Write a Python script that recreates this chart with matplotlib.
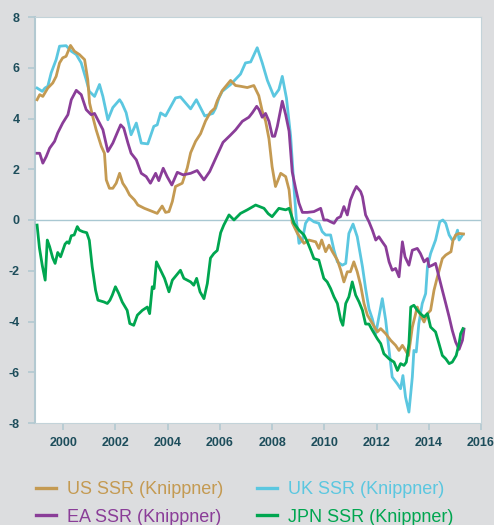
import matplotlib
matplotlib.use("Agg")
import matplotlib.pyplot as plt
from matplotlib.lines import Line2D

plt.rcParams['font.family'] = ['Liberation Sans', 'DejaVu Sans']
plt.rcParams['axes.unicode_minus'] = False

# ---------------- data (decimal years, shadow short rate %) ----------------
us_t = [1999.0, 1999.1, 1999.22, 1999.41, 1999.6, 1999.73, 1999.86, 1999.98, 2000.11, 2000.28,
        2000.43, 2000.62, 2000.82, 2000.94, 2001.01, 2001.13, 2001.26, 2001.46, 2001.58, 2001.65,
        2001.77, 2001.9, 2002.03, 2002.16, 2002.28, 2002.41, 2002.54, 2002.73, 2002.86, 2003.11,
        2003.43, 2003.6, 2003.79, 2003.92, 2004.05, 2004.18, 2004.3, 2004.56, 2004.75, 2004.88,
        2005.07, 2005.26, 2005.45, 2005.64, 2005.8, 2005.9, 2006.09, 2006.41, 2006.6, 2006.79,
        2007.05, 2007.3, 2007.49, 2007.62, 2007.75, 2007.88, 2008.0, 2008.13, 2008.33, 2008.52,
        2008.65, 2008.77, 2008.97, 2009.22, 2009.41, 2009.67, 2009.79, 2009.9, 2010.05, 2010.18,
        2010.31, 2010.5, 2010.63, 2010.75, 2010.88, 2011.0, 2011.13, 2011.26, 2011.39, 2011.52,
        2011.65, 2011.84, 2012.03, 2012.16, 2012.35, 2012.54, 2012.73, 2012.86, 2012.99, 2013.11,
        2013.22, 2013.37, 2013.56, 2013.68, 2013.82, 2013.95, 2014.07, 2014.2, 2014.33, 2014.52,
        2014.65, 2014.85, 2014.93, 2015.03, 2015.16, 2015.33]
us_v = [4.74, 4.94, 4.87, 5.2, 5.4, 5.66, 6.19, 6.39, 6.45, 6.88,
        6.65, 6.52, 6.32, 5.53, 4.61, 4.08, 3.56, 2.9, 2.63, 1.58,
        1.25, 1.25, 1.45, 1.84, 1.45, 1.25, 0.99, 0.79, 0.59, 0.46,
        0.33, 0.26, 0.55, 0.3, 0.33, 0.73, 1.32, 1.45, 2.05, 2.65,
        3.1, 3.4, 3.9, 4.25, 4.4, 4.7, 5.1, 5.5, 5.3, 5.27,
        5.22, 5.3, 4.9, 4.3, 3.9, 3.2, 2.1, 1.32, 1.84, 1.71,
        1.19, -0.1, -0.53, -0.92, -0.79, -0.86, -1.12, -0.79, -1.25, -0.99,
        -1.25, -1.58, -1.98, -2.44, -2.04, -2.04, -1.65, -2.04, -2.57, -3.29,
        -3.75, -4.08, -4.41, -4.28, -4.48, -4.74, -4.94, -5.14, -4.94, -5.14,
        -5.34, -4.22, -3.43, -3.75, -4.02, -3.69, -3.56, -2.77, -2.24, -1.52,
        -1.38, -1.25, -0.79, -0.59, -0.53, -0.55]

uk_t = [1999.0, 1999.2, 1999.3, 1999.41, 1999.54, 1999.73, 1999.86, 2000.11, 2000.31, 2000.5,
        2000.69, 2000.88, 2001.0, 2001.2, 2001.39, 2001.52, 2001.71, 2001.9, 2002.16, 2002.25,
        2002.41, 2002.6, 2002.8, 2002.99, 2003.24, 2003.47, 2003.6, 2003.73, 2003.92, 2004.3,
        2004.49, 2004.88, 2005.1, 2005.42, 2005.73, 2005.84, 2005.96, 2006.09, 2006.41, 2006.79,
        2006.98, 2007.18, 2007.43, 2007.62, 2007.82, 2008.07, 2008.26, 2008.39, 2008.55, 2008.71,
        2008.84, 2008.93, 2009.03, 2009.16, 2009.28, 2009.41, 2009.6, 2009.79, 2009.92, 2010.05,
        2010.24, 2010.37, 2010.5, 2010.69, 2010.82, 2010.94, 2011.1, 2011.26, 2011.46, 2011.58,
        2011.71, 2011.84, 2011.97, 2012.09, 2012.22, 2012.35, 2012.48, 2012.6, 2012.8, 2012.92,
        2013.01, 2013.11, 2013.24, 2013.37, 2013.43, 2013.52, 2013.62, 2013.75, 2013.88, 2013.95,
        2014.07, 2014.26, 2014.42, 2014.54, 2014.65, 2014.78, 2014.9, 2015.0, 2015.1, 2015.16,
        2015.29]
uk_v = [5.2, 5.07, 5.2, 5.27, 5.8, 6.32, 6.85, 6.87, 6.65, 6.52,
        6.19, 5.53, 5.07, 4.87, 5.34, 4.87, 3.95, 4.43, 4.74, 4.6,
        4.23, 3.36, 3.82, 3.03, 3.0, 3.69, 3.75, 4.22, 4.1, 4.81,
        4.85, 4.38, 4.74, 4.1, 4.2, 4.41, 4.8, 5.07, 5.34, 5.75,
        6.19, 6.23, 6.79, 6.2, 5.5, 4.87, 5.14, 5.66, 4.8, 3.3,
        1.25, 0.0, -0.92, -0.79, -0.13, 0.07, -0.07, -0.13, -0.46, -0.59,
        -0.59, -1.19, -1.65, -1.78, -1.71, -0.53, -0.16, -0.66, -1.84, -2.7,
        -3.5, -3.9, -4.48, -3.82, -3.1, -3.95, -5.14, -6.19, -6.46, -6.65,
        -6.13, -6.98, -7.57, -6.19, -5.14, -5.2, -4.08, -3.29, -2.9, -1.84,
        -1.32, -0.79, -0.07, 0.0, -0.13, -0.59, -0.79, -0.73, -0.4, -0.79,
        -0.59]

ea_t = [1999.0, 1999.1, 1999.22, 1999.35, 1999.48, 1999.67, 1999.79, 1999.98, 2000.18, 2000.31,
        2000.5, 2000.69, 2000.88, 2001.07, 2001.2, 2001.39, 2001.52, 2001.71, 2001.9, 2002.09,
        2002.2, 2002.32, 2002.48, 2002.6, 2002.8, 2002.99, 2003.18, 2003.34, 2003.54, 2003.66,
        2003.83, 2003.98, 2004.16, 2004.37, 2004.59, 2004.88, 2005.13, 2005.39, 2005.61, 2005.87,
        2006.12, 2006.38, 2006.6, 2006.86, 2007.11, 2007.24, 2007.41, 2007.5, 2007.62, 2007.75,
        2007.88, 2008.01, 2008.1, 2008.2, 2008.39, 2008.52, 2008.65, 2008.77, 2008.9, 2009.03,
        2009.16, 2009.35, 2009.6, 2009.86, 2009.98, 2010.11, 2010.24, 2010.37, 2010.5, 2010.62,
        2010.75, 2010.88, 2011.0, 2011.13, 2011.23, 2011.39, 2011.46, 2011.58, 2011.71, 2011.84,
        2011.97, 2012.09, 2012.22, 2012.35, 2012.48, 2012.6, 2012.73, 2012.86, 2012.99, 2013.09,
        2013.24, 2013.37, 2013.56, 2013.68, 2013.82, 2013.95, 2014.01, 2014.14, 2014.26, 2014.39,
        2014.52, 2014.65, 2014.78, 2014.9, 2015.03, 2015.16, 2015.29, 2015.35]
ea_v = [2.63, 2.63, 2.24, 2.5, 2.83, 3.1, 3.43, 3.82, 4.15, 4.74,
        5.11, 4.94, 4.35, 4.15, 4.2, 3.82, 3.56, 2.7, 3.03, 3.49,
        3.75, 3.62, 3.03, 2.63, 2.37, 1.84, 1.71, 1.45, 1.84, 1.55,
        2.04, 1.71, 1.38, 1.88, 1.78, 1.84, 1.95, 1.58, 1.91, 2.5,
        3.06, 3.32, 3.55, 3.89, 4.05, 4.22, 4.48, 4.35, 4.05, 4.2,
        3.89, 3.3, 3.3, 3.69, 4.68, 4.15, 3.5, 1.9, 1.25, 0.66,
        0.3, 0.3, 0.33, 0.46, 0.0, 0.0, -0.07, -0.13, 0.07, 0.13,
        0.53, 0.2, 0.79, 1.12, 1.32, 1.12, 0.92, 0.2, -0.07, -0.4,
        -0.79, -0.66, -0.86, -1.05, -1.65, -1.98, -1.91, -2.24, -0.86, -1.45,
        -1.78, -1.19, -1.12, -1.32, -1.65, -1.52, -1.84, -1.78, -1.71, -2.24,
        -2.77, -3.29, -3.82, -4.35, -4.81, -5.1, -4.74, -4.3]

jp_t = [1999.0, 1999.09, 1999.2, 1999.31, 1999.39, 1999.48, 1999.6, 1999.69, 1999.79, 1999.9,
        2000.07, 2000.15, 2000.22, 2000.31, 2000.42, 2000.54, 2000.62, 2000.75, 2000.9, 2001.0,
        2001.11, 2001.24, 2001.33, 2001.56, 2001.69, 2001.79, 2001.88, 2002.0, 2002.13, 2002.26,
        2002.45, 2002.55, 2002.7, 2002.84, 2003.03, 2003.22, 2003.31, 2003.41, 2003.48, 2003.57,
        2003.73, 2003.88, 2004.05, 2004.18, 2004.34, 2004.49, 2004.62, 2004.88, 2005.0, 2005.11,
        2005.24, 2005.39, 2005.52, 2005.64, 2005.77, 2005.9, 2006.03, 2006.15, 2006.35, 2006.54,
        2006.79, 2007.05, 2007.37, 2007.69, 2007.85, 2008.0, 2008.26, 2008.52, 2008.65, 2008.84,
        2009.03, 2009.22, 2009.35, 2009.48, 2009.6, 2009.79, 2009.98, 2010.11, 2010.24, 2010.37,
        2010.5, 2010.63, 2010.71, 2010.82, 2010.94, 2011.07, 2011.2, 2011.33, 2011.46, 2011.58,
        2011.71, 2011.84, 2012.03, 2012.16, 2012.28, 2012.48, 2012.67, 2012.8, 2012.92, 2013.05,
        2013.14, 2013.24, 2013.31, 2013.43, 2013.56, 2013.68, 2013.82, 2013.95, 2014.07, 2014.26,
        2014.39, 2014.52, 2014.65, 2014.78, 2014.9, 2015.05, 2015.16, 2015.22, 2015.31]
jp_v = [-0.2, -1.1, -1.8, -2.37, -0.79, -1.05, -1.5, -1.71, -1.28, -1.45,
        -0.95, -0.86, -0.92, -0.62, -0.59, -0.26, -0.4, -0.46, -0.5, -0.8,
        -1.84, -2.77, -3.16, -3.23, -3.29, -3.16, -2.96, -2.63, -2.9, -3.23,
        -3.56, -4.08, -4.15, -3.75, -3.56, -3.43, -3.69, -2.63, -2.7, -1.65,
        -1.98, -2.3, -2.83, -2.37, -2.17, -1.98, -2.3, -2.44, -2.57, -2.3,
        -2.83, -3.1, -2.5, -1.5, -1.32, -1.2, -0.5, -0.2, 0.2, 0.0,
        0.26, 0.4, 0.59, 0.46, 0.25, 0.13, 0.46, 0.4, 0.46, -0.13,
        -0.4, -0.59, -0.86, -1.19, -1.52, -1.58, -2.3, -2.44, -2.7, -3.03,
        -3.29, -3.95, -4.15, -3.29, -3.03, -2.44, -2.96, -3.23, -3.56, -4.1,
        -4.1, -4.35, -4.68, -4.87, -5.27, -5.47, -5.6, -5.93, -5.66, -5.73,
        -5.6, -4.87, -3.43, -3.36, -3.56, -3.69, -3.82, -3.69, -4.22, -4.41,
        -4.87, -5.34, -5.47, -5.66, -5.6, -5.34, -4.87, -4.48, -4.28]

labels = ["US SSR (Knippner)", "UK SSR (Knippner)", "EA SSR (Knippner)", "JPN SSR (Knippner)"]
x_ticks = [2000, 2002, 2004, 2006, 2008, 2010, 2012, 2014, 2016]
y_ticks = [-8, -6, -4, -2, 0, 2, 4, 6, 8]

# ---------------- styling ----------------
c_us, c_uk, c_ea, c_jp = "#c49a52", "#5bc7e0", "#8a3d98", "#00a650"
bg = "#dcdddf"
tick_col = "#b3c9d1"
lab_col = "#1d4d5b"

W, H = 494, 525
fig = plt.figure(figsize=(W / 100, H / 100), dpi=100, facecolor=bg)
ax = fig.add_axes([35 / W, 1 - 423 / H, (481 - 35) / W, (423 - 17) / H])
ax.set_facecolor("white")

lw = 2.0
ax.axhline(0, color="#a9c8d2", lw=1.0, zorder=1)
ax.plot(uk_t, uk_v, color=c_uk, lw=lw, zorder=3)
ax.plot(us_t, us_v, color=c_us, lw=lw, zorder=3)
ax.plot(ea_t, ea_v, color=c_ea, lw=lw, zorder=4)
ax.plot(jp_t, jp_v, color=c_jp, lw=lw, zorder=5)

ax.set_xlim(1998.92, 2016.0)
ax.set_ylim(-8, 8)
ax.set_xticks(x_ticks)
ax.set_yticks(y_ticks)
ax.set_xticklabels([str(t) for t in x_ticks])
ax.set_yticklabels([str(t) for t in y_ticks])

for s in ["top", "right", "bottom"]:
    ax.spines[s].set_color("#c3d3d9")
    ax.spines[s].set_linewidth(0.8)
ax.spines["left"].set_color(tick_col)
ax.spines["left"].set_linewidth(1.5)

ax.tick_params(axis="both", colors=tick_col, length=5, width=1.2, direction="out",
               labelcolor=lab_col, labelsize=9)
ax.tick_params(axis="y", pad=6)
ax.tick_params(axis="x", pad=5)
for t in ax.get_xticklabels() + ax.get_yticklabels():
    t.set_fontweight("bold")

handles = [Line2D([], [], color=c_us, lw=2.4),
           Line2D([], [], color=c_ea, lw=2.4),
           Line2D([], [], color=c_uk, lw=2.4),
           Line2D([], [], color=c_jp, lw=2.4)]
leg_labels = [labels[0], labels[2], labels[1], labels[3]]
leg = fig.legend(handles, leg_labels, ncol=2, loc="upper left",
                 bbox_to_anchor=(29 / W, 1 - 474 / H), frameon=False,
                 fontsize=13, handlelength=1.1, handletextpad=0.6,
                 columnspacing=1.9, labelspacing=0.58, borderaxespad=0)
for txt, h in zip(leg.get_texts(), handles):
    txt.set_color(h.get_color())

fig.savefig("out.png", dpi=100, facecolor=bg)
